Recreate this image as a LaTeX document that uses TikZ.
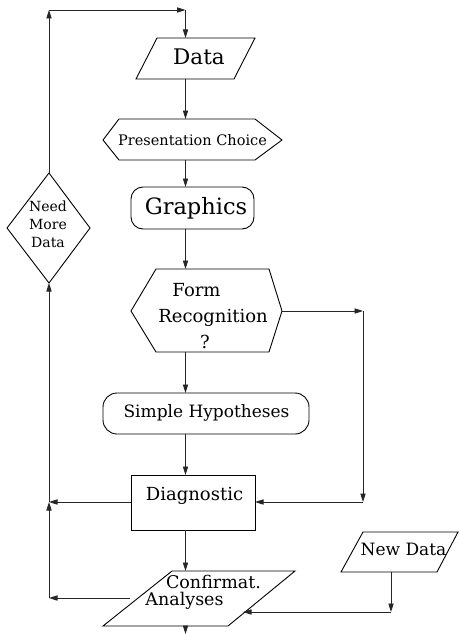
\documentclass[tikz,border=0pt]{standalone}
\usepackage{fontspec}
\setmainfont{DejaVu Serif}
\usetikzlibrary{arrows.meta}
\begin{document}
\begin{tikzpicture}[x=1pt,y=-1pt,
  shapeline/.style={draw=black,line width=0.9pt,line join=miter},
  conn/.style={draw=black!85,line width=0.9pt,-{Triangle[length=8.5pt,width=5.2pt]}},
  txt/.style={inner sep=0pt,font=\fontsize{#1}{#1}\selectfont},
  txt/.default=17]
\useasboundingbox (0,0) rectangle (459,634);
% shapes
\draw[shapeline] (157,38) -- (255,38) -- (234,79) -- (136,79) -- cycle;
\node[txt=21.5] (data) at (199,57) {Data};
\draw[shapeline] (119,119) -- (255,119) -- (282,140) -- (255,160) -- (119,160) -- (103,140) -- cycle;
\node[txt=14.5] (pres) at (192.5,140) {Presentation Choice};
\draw[shapeline,rounded corners=12pt] (131,187) rectangle (254,229);
\node[txt=22.5] (graph) at (196,208) {Graphics};
\draw[shapeline] (156,269) -- (269,269) -- (282,311) -- (269,352) -- (156,352) -- (131,311) -- cycle;
\node[txt=18] (form1) at (196.5,290) {Form};
\node[txt=18] (form2) at (213,318) {Recognition};
\node[txt=18] (form3) at (205,342) {?};
\draw[shapeline,rounded corners=14pt] (103,393) rectangle (309,434);
\node[txt=17] (simple) at (206.5,413) {Simple Hypotheses};
\draw[shapeline] (131,475) rectangle (255,530);
\node[txt=18] (diag) at (194.5,496) {Diagnostic};
\draw[shapeline] (172,571) -- (295,571) -- (228,626) -- (103,626) -- cycle;
\node[txt=17.5] (conf1) at (213.5,582) {Confirmat.};
\node[txt=17.5] (conf2) at (184.5,601) {Analyses};
\draw[shapeline] (363,532) -- (458,532) -- (437,572) -- (341,572) -- cycle;
\node[txt=17] (newd) at (403.5,549) {New Data};
\draw[shapeline] (49,173) -- (90,228) -- (49,283) -- (7,228) -- cycle;
\node[txt=14] (need1) at (48,206) {Need};
\node[txt=14] (need2) at (48,224) {More};
\node[txt=14] (need3) at (48,242) {Data};
% anchor coordinates
\coordinate (dmTop) at (49,173);
\coordinate (dmBot) at (49,283);
\coordinate (tl) at (49,10);
\coordinate (tr) at (185.5,10);
\coordinate (dataT) at (185.5,38);
\coordinate (dataB) at (185.5,79);
\coordinate (presT) at (185.5,119);
\coordinate (presB) at (185.5,160);
\coordinate (graphT) at (185.5,187);
\coordinate (graphB) at (185.5,229);
\coordinate (formT) at (185.5,269);
\coordinate (formB) at (185.5,352);
\coordinate (formR) at (282,311);
\coordinate (fr1) at (363,311);
\coordinate (fr2) at (363,502);
\coordinate (simpT) at (185.5,393);
\coordinate (simpB) at (185.5,434);
\coordinate (diagT) at (185.5,475);
\coordinate (diagB) at (185.5,530);
\coordinate (diagL) at (131,502);
\coordinate (diagR) at (255,502);
\coordinate (lm) at (49,502);
\coordinate (lb) at (49,598);
\coordinate (confL) at (130,598);
\coordinate (confT) at (185.5,571);
\coordinate (confB) at (185.5,626);
\coordinate (out) at (185.5,634);
\coordinate (ndB) at (391,572);
\coordinate (nd1) at (391,612);
\coordinate (confR) at (243,612);
% connectors
\draw[conn] (dmTop) -- (tl);
\draw[conn] (tl) -- (tr);
\draw[conn] (tr) -- (dataT);
\draw[conn] (dataB) -- (presT);
\draw[conn] (presB) -- (graphT);
\draw[conn] (graphB) -- (formT);
\draw[conn] (formR) -- (fr1);
\draw[conn] (fr1) -- (fr2);
\draw[conn] (fr2) -- (diagR);
\draw[conn] (formB) -- (simpT);
\draw[conn] (simpB) -- (diagT);
\draw[conn] (diagL) -- (lm);
\draw[conn] (lb) -- (lm);
\draw[conn] (lm) -- (dmBot);
\draw[conn] (confL) -- (lb);
\draw[conn] (diagB) -- (confT);
\draw[conn] (confB) -- (out);
\draw[conn] (ndB) -- (nd1);
\draw[conn] (nd1) -- (confR);
\end{tikzpicture}
\end{document}
